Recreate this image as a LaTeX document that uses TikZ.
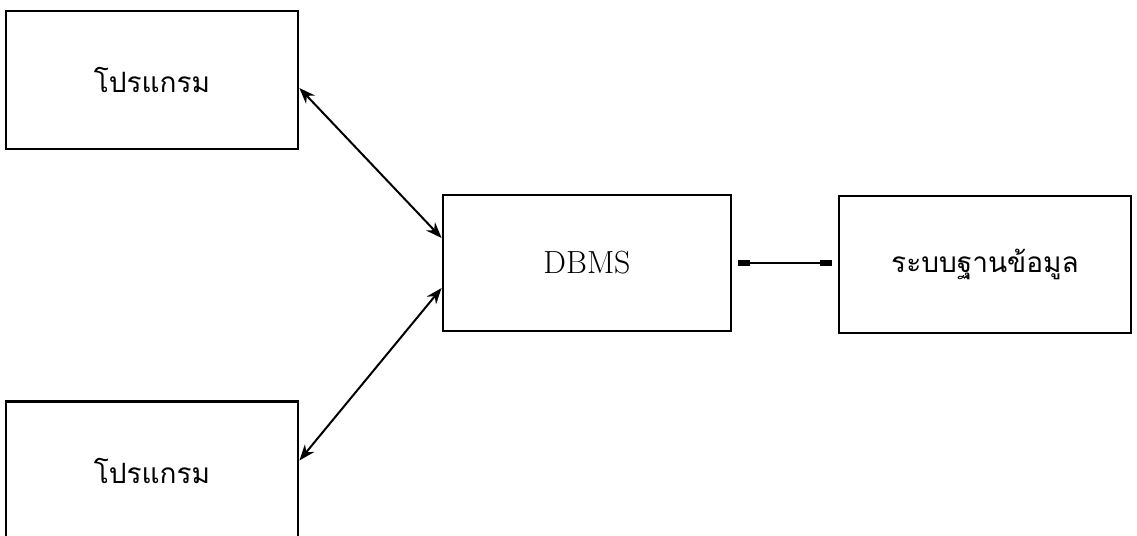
\documentclass[tikz,border=0pt]{standalone}
\usepackage{fontspec}
\newfontfamily\thaifont[Script=Thai]{Loma}
\usepackage{tikz}
\usetikzlibrary{arrows.meta}

\begin{document}
\begin{tikzpicture}[x=0.5pt,y=-0.5pt,line width=1pt,
                    >={Stealth[length=8pt,width=6pt]}]
  \tikzstyle{box}=[draw,line width=1.4pt,rectangle,inner sep=0pt,
                   minimum width=146pt,minimum height=69pt]
  \tikzstyle{blob}=[{Rectangle[length=6pt,width=3pt]}-{Rectangle[length=6pt,width=3pt]}]
  \useasboundingbox (0,0) rectangle (1137,536);
  \clip (0,0) rectangle (1137,536);

  \node[box] (prog1) at (152,80)    {\thaifont\fontsize{14}{16}\selectfont โปรแกรม};
  \node[box] (prog2) at (152,470.5) {\thaifont\fontsize{14}{16}\selectfont โปรแกรม};
  \node[box, minimum width=144pt, minimum height=68pt] (dbms) at (587,263)
        {\fontsize{16}{18}\selectfont DBMS};
  \node[box, minimum height=68.5pt] (db) at (985,264.5)
        {\thaifont\fontsize{14}{16}\selectfont ระบบฐานข้อมูล};

  \path ([yshift=-4pt]prog1.east) edge [<->] ([yshift=12.5pt]dbms.west)
        ([yshift=5pt]prog2.east)  edge [<->] ([yshift=-12.5pt]dbms.west)
        (dbms.east) edge [blob, shorten <=3pt, shorten >=3pt] (dbms.east -| db.west)
        ;
\end{tikzpicture}
\end{document}
